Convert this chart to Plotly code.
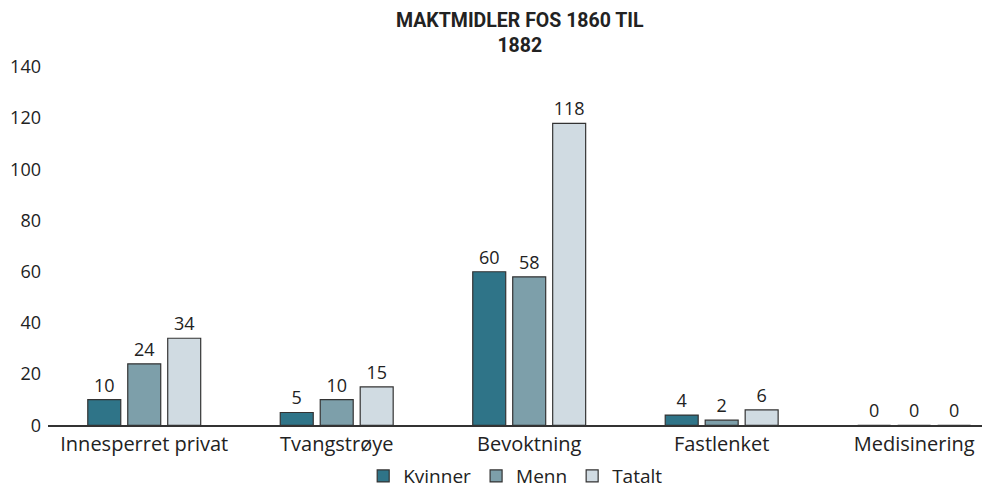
import plotly.graph_objects as go

categories = ["Innesperret privat", "Tvangstrøye", "Bevoktning", "Fastlenket", "Medisinering"]
kvinner = [10, 5, 60, 4, 0]
menn = [24, 10, 58, 2, 0]
tatalt = [34, 15, 118, 6, 0]
series_names = ["Kvinner", "Menn", "Tatalt"]
colors = ["#2f7488", "#7d9faa", "#d0dbe2"]
y_ticks = [0, 20, 40, 60, 80, 100, 120, 140]
title_text = "<b>MAKTMIDLER FOS 1860 TIL<br>1882</b>"

FONT = "Open Sans, Arial, sans-serif"
TFONT = "Roboto, Arial, sans-serif"

fig = go.Figure()
for name, vals, col in zip(series_names, [kvinner, menn, tatalt], colors):
    fig.add_trace(go.Bar(
        x=categories, y=vals, name=name,
        marker=dict(color=col, line=dict(color="#333333", width=1.2)),
        text=[str(v) for v in vals], textposition="outside",
        textfont=dict(family=FONT, size=18, color="#222222"),
        cliponaxis=False,
    ))

fig.add_annotation(text=title_text, xref="paper", yref="paper",
                   x=0.501, y=1.1634, xanchor="center", yanchor="top",
                   showarrow=False, align="center", borderpad=0,
                   font=dict(family=TFONT, size=19.5, color="#222222"))

fig.update_layout(
    width=982, height=483,
    margin=dict(l=40, r=0, t=59, b=63),
    paper_bgcolor="white", plot_bgcolor="white",
    barmode="group", bargap=0.377, bargroupgap=0.175,
    font=dict(family=FONT, size=18, color="#222222"),
    showlegend=True,
    legend=dict(orientation="h", xref="container", x=0.517, xanchor="center",
                yref="container", y=0.031, yanchor="middle",
                font=dict(family=FONT, size=19, color="#222222"),
                itemwidth=30, traceorder="normal"),
    xaxis=dict(range=[-0.5, 4.394], showline=True, linecolor="#333333", linewidth=1.5,
               ticks="", showgrid=False, tickfont=dict(family=FONT, size=20, color="#222222")),
    yaxis=dict(range=[0, 140], tickvals=y_ticks, showgrid=False, zeroline=False,
               showline=False, ticks="", ticklabelstandoff=6,
               tickfont=dict(family=FONT, size=18, color="#222222")),
)

fig.write_html("out.html")
